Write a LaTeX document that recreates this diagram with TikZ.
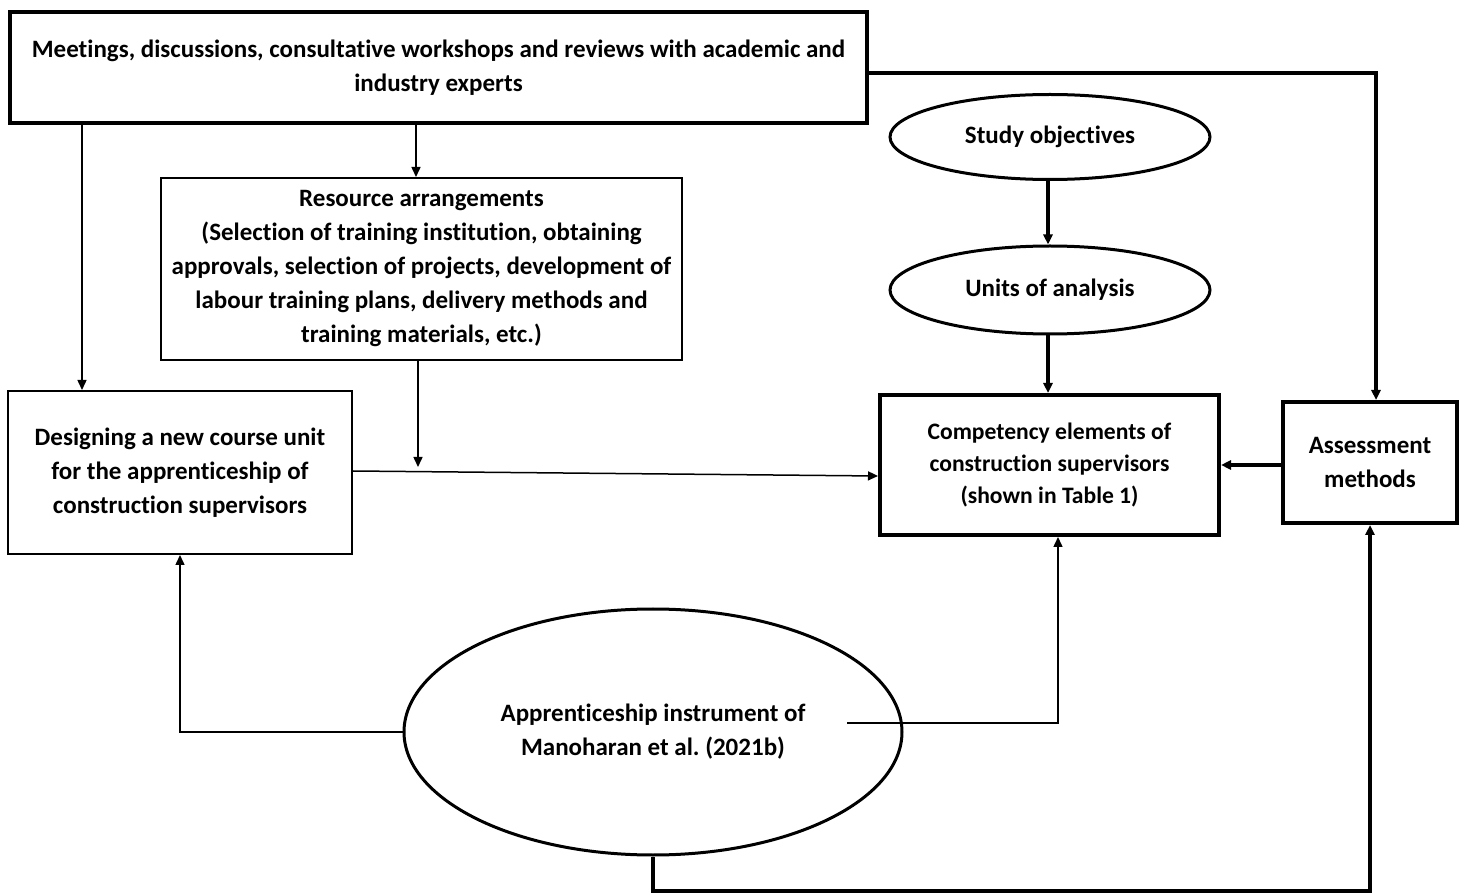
\documentclass[tikz,border=0pt]{standalone}
\usepackage{fontspec}
\setmainfont{Carlito}[Ligatures=NoCommon]
\frenchspacing
\usetikzlibrary{shapes.geometric,arrows.meta}
\tikzset{
  boxthin/.style={draw,line width=1pt,inner sep=0pt,align=center,font=\bfseries\fontsize{12.5}{17}\selectfont},
  boxthick/.style={draw,line width=2pt,inner sep=0pt,align=center,font=\bfseries\fontsize{12.5}{17}\selectfont},
  oval/.style={draw,ellipse,line width=1.5pt,inner sep=0pt,align=center,font=\bfseries\fontsize{12.5}{17}\selectfont},
  thinline/.style={line width=0.75pt},
  thickline/.style={line width=2pt}
}
\begin{document}
\begin{tikzpicture}[x=0.5pt,y=-0.5pt,>={Triangle[length=5pt,width=4.5pt]},line join=miter]
\useasboundingbox (0,0) rectangle (1464,893);
\path(438.5,67.5)node[boxthick,minimum width=428.5pt,minimum height=55.5pt](meet){Meetings, discussions, consultative workshops and reviews with academic and\\industry experts}
(421.5,269)node[boxthin,minimum width=260.5pt,minimum height=91pt](res){Resource arrangements\\(Selection of training institution, obtaining\\approvals, selection of projects, development of\\labour training plans, delivery methods and\\training materials, etc.)}
(180,472.5)node[boxthin,minimum width=172pt,minimum height=81.5pt](design){Designing a new course unit\\for the apprenticeship of\\construction supervisors}
(1049.5,465)node[boxthick,minimum width=169.5pt,minimum height=70pt,font=\bfseries\fontsize{11.8}{16}\selectfont](comp){Competency elements of\\construction supervisors\\(shown in Table 1)}
(1370,462.5)node[boxthick,minimum width=87pt,minimum height=60.5pt](assess){Assessment\\methods}
(1050,137)node[oval,minimum width=160pt,minimum height=42.5pt](study){Study objectives}
(1050,290)node[oval,minimum width=160pt,minimum height=44pt](units){Units of analysis}
(653,732)node[oval,minimum width=249pt,minimum height=123pt](appr){Apprenticeship instrument of\\Manoharan et al. (2021b)}
;
% junction points
\coordinate (jres) at (418,467);
\coordinate (apprR) at (847,723);
\draw[thickline,->] (meet.east|-0,73) -| (1376,0|-assess.north);
\draw[thinline,->] (82,0|-meet.south) -- (82,0|-design.north);
\draw[thinline,->] (416,0|-meet.south) -- (416,0|-res.north);
\draw[thinline,->] (418,0|-res.south) -- (jres);
\draw[thinline,->] (design.east|-0,471) -- (comp.west|-0,476);
\draw[thickline,->] (1048,0|-study.south) -- (1048,0|-units.north);
\draw[thickline,->] (1048,0|-units.south) -- (1048,0|-comp.north);
\draw[thickline,->] (assess.west|-0,465) -- (comp.east|-0,465);
\draw[thinline,->] (appr.west) -| (design.south);
\draw[thinline,->] (apprR) -| (1058,0|-comp.south);
\draw[thickline,->] (appr.south) |- (1370,891) -- (1370,0|-assess.south);
\end{tikzpicture}
\end{document}
